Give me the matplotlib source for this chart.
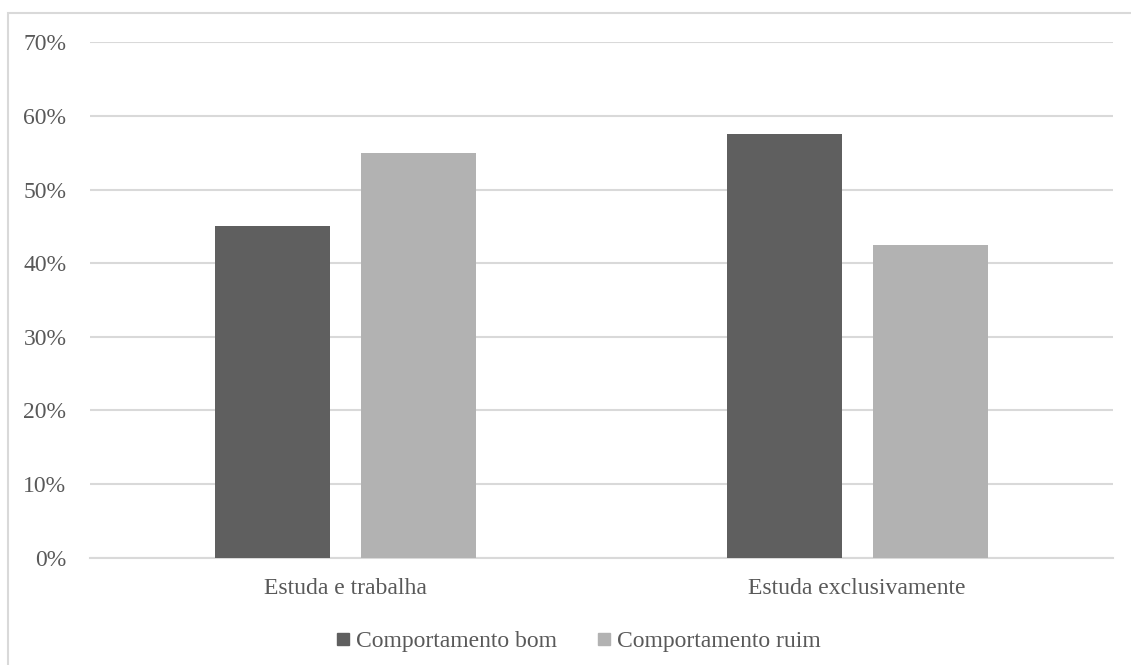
import matplotlib
matplotlib.use("Agg")
import matplotlib.pyplot as plt
from matplotlib.lines import Line2D
from matplotlib.patches import Rectangle
import numpy as np

categories = ["Estuda e trabalha", "Estuda exclusivamente"]
series_names = ["Comportamento bom", "Comportamento ruim"]
bom = [0.45, 0.575]
ruim = [0.55, 0.425]
yticks = [0, 0.1, 0.2, 0.3, 0.4, 0.5, 0.6, 0.7]
ytick_labels = ["0%", "10%", "20%", "30%", "40%", "50%", "60%", "70%"]

dark = "#5f5f5f"
light = "#b2b2b2"
text_color = "#595959"
grid_color = "#d9d9d9"

plt.rcParams["font.family"] = ["Liberation Serif", "DejaVu Serif"]

W, H = 1131, 665
fig = plt.figure(figsize=(W / 100, H / 100), dpi=100)

# outer chart frame (only left and top edges fall inside the image)
fig.patches.append(Rectangle((7.5 / W, -0.1), 1.2, (H - 13) / H + 0.1,
                             transform=fig.transFigure, fill=False,
                             edgecolor=grid_color, linewidth=1.5))

left, right = 90 / W, 1113 / W
bottom, top = 1 - 557.5 / H, 1 - 42.3 / H
ax = fig.add_axes([left, bottom, right - left, top - bottom])

x = np.arange(len(categories))
width = 0.225
offset = 0.1425
ax.bar(x - offset, bom, width, color=dark, zorder=3, label=series_names[0])
ax.bar(x + offset, ruim, width, color=light, zorder=3, label=series_names[1])

ax.set_xlim(-0.5, len(categories) - 0.5)
ax.set_ylim(0, 0.7)
ax.set_yticks(yticks)
ax.set_yticklabels(ytick_labels)
ax.set_xticks(x)
ax.set_xticklabels(categories)
ax.yaxis.grid(True, color=grid_color, linewidth=1.5, zorder=0)
ax.set_axisbelow(True)
for s in ["top", "right", "left"]:
    ax.spines[s].set_visible(False)
ax.spines["bottom"].set_color(grid_color)
ax.spines["bottom"].set_linewidth(1.5)
ax.tick_params(axis="both", length=0, labelsize=17, labelcolor=text_color)
ax.tick_params(axis="y", pad=17)
ax.tick_params(axis="x", pad=14.5)

handles = [Line2D([], [], marker="s", linestyle="none", markersize=8.6,
                  markerfacecolor=c, markeredgecolor=c) for c in (dark, light)]
leg = fig.legend(handles, series_names, loc="center", ncol=2,
                 bbox_to_anchor=(578.5 / W, 1 - 641 / H), frameon=False,
                 fontsize=17, handlelength=0.6, handletextpad=0.25,
                 columnspacing=1.7, borderaxespad=0)
for t in leg.get_texts():
    t.set_color(text_color)

fig.savefig("out.png", dpi=100, facecolor="white")
